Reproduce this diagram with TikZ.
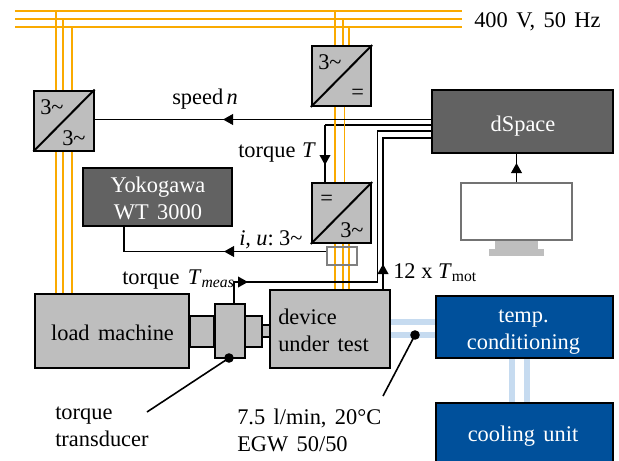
\documentclass[tikz,border=0pt]{standalone}
\usepackage{fontspec}
\setmainfont[WordSpace=1.5]{Liberation Serif}
\usetikzlibrary{arrows.meta}
\definecolor{phase}{RGB}{250,170,0}
\definecolor{coolant}{RGB}{198,219,240}
\definecolor{darkbox}{RGB}{98,98,98}
\definecolor{midbox}{RGB}{190,190,190}
\definecolor{bluebox}{RGB}{0,80,155}
\newcommand{\threeph}{3\textasciitilde}
\tikzset{
  midblock/.style={draw=black, line width=1.5pt, fill=midbox, inner sep=0pt},
  darkblock/.style={midblock, fill=darkbox},
  blueblock/.style={midblock, fill=bluebox},
  conv/.style={midblock, minimum width=44.5pt, minimum height=45pt},
  phaseline/.style={draw=phase, line width=1.3pt},
  coolline/.style={draw=coolant, line width=4.5pt},
  sigline/.style={draw=black, line width=1.2pt},
  sigarrow/.style={sigline, -{Triangle[length=7.5pt,width=8pt]}},
  textlabel/.style={inner sep=0pt, text=black, anchor=base west, align=left},
  boxtext/.style={inner sep=0pt, anchor=base, align=center}
}
\begin{document}
\begin{tikzpicture}[x=0.75pt, y=-0.75pt, every node/.style={font=\fontsize{16.8}{20}\selectfont}]
\useasboundingbox (0,0) rectangle (619,461);

% torque line runs under the grid
\draw[sigline] (432,125) -- (325,125);

% grid
\draw[phaseline] (15,11) -- (462,11);
\draw[phaseline] (15,19) -- (462,19);
\draw[phaseline] (15,27) -- (462,27);
\foreach \x/\y in {56/11, 63/19, 72/27} {
  \draw[phaseline] (\x,\y) -- (\x,294);
}
\draw[phaseline] (335,11) -- (335,290);
\draw[phaseline] (343,19) -- (343,46);
\draw[phaseline] (349,27) -- (349,46);
\draw[phaseline] (344.5,106) -- (344.5,183);
\draw[phaseline] (343,243) -- (343,290);
\draw[phaseline] (349,243) -- (349,290);

% coolant
\draw[coolline] (390,321.5) -- (436,321.5);
\draw[coolline] (390,335) -- (436,335);
\draw[coolline] (511.5,358) -- (511.5,403);
\draw[coolline] (527,358) -- (527,403);

% converters
\node[conv] (convload) at (64,120.5) {};
\node[conv] (convgrid) at (341.5,76) {};
\node[conv] (convdut) at (341.5,213) {};
\draw[line width=1.5pt] (convload.south west) -- (convload.north east);
\draw[line width=1.5pt] (convgrid.south west) -- (convgrid.north east);
\draw[line width=1.5pt] (convdut.south west) -- (convdut.north east);
\node[textlabel] (la) at (40,114) {\threeph};
\node[textlabel] (lb) at (62,145) {\threeph};
\node[textlabel] (lc) at (318,69) {\threeph};
\node[textlabel] (ld) at (351,99) {=};
\node[textlabel] (le) at (320,205) {=};
\node[textlabel] (lf) at (340,237) {\threeph};

% blocks
\node[darkblock, minimum width=112pt, minimum height=43.5pt] (yoko) at (157.5,197) {};
\node[darkblock, minimum width=135.7pt, minimum height=47pt] (dspace) at (522.5,121.5) {};
\node[midblock, minimum width=116pt, minimum height=55.5pt] (load) at (112,331) {};
\node[midblock, minimum width=90pt, minimum height=58.5pt] (dut) at (330,329) {};
\node[blueblock, minimum width=132.7pt, minimum height=46.5pt] (temp) at (524.5,327) {};
\node[blueblock, minimum width=132.7pt, minimum height=46.5pt] (cool) at (524.5,434) {};
\node[boxtext, text=white] (tyoko) at (158,219) {Yokogawa\\WT 3000};
\node[boxtext, text=white] (tdspace) at (523,131) {dSpace};
\node[boxtext] (tload) at (112.5,340) {load machine};
\node[textlabel] (tdut) at (278,351) {device\\under test};
\node[boxtext, text=white] (ttemp) at (523.5,349) {temp.\\conditioning};
\node[boxtext, text=white] (tcool) at (523,441) {cooling unit};

% shaft
\node[midblock, minimum width=18.5pt, minimum height=23pt] (shaftl) at (202,331.5) {};
\node[midblock, minimum width=13pt, minimum height=23pt] (shaftr) at (253,331.5) {};
\node[midblock, minimum width=6.5pt, minimum height=9pt] (shaftd) at (266,331) {};
\node[midblock, minimum width=22.5pt, minimum height=40.5pt] (trans) at (229.5,331) {};

% monitor
\node[draw=black!55, line width=1.3pt, fill=white, minimum width=83pt, minimum height=42.5pt, inner sep=0pt] (monitor) at (516.5,211.5) {};
\fill[midbox] (495,241) rectangle (538,249);
\fill[midbox] (489,249) rectangle (544,256);

% current sensor
\node[draw=black!50, line width=1.2pt, minimum width=22.5pt, minimum height=13.5pt, inner sep=0pt] (sensor) at (342,256) {};

% signals
\draw[sigline] (432,119.5) -- (convload.east |- 432,119.5);
\draw[sigarrow] (432,119.5) -- (223,119.5);
\draw[sigarrow] (325,125) -- (325,165);
\draw[sigline] (325,125) -- (325,183);
\draw[sigline] (432,131) -- (377.5,131) -- (377.5,282) -- (234,282) -- (234,304);
\draw[sigarrow] (234,282) -- (248,282);
\draw[sigline] (432,138) -- (383,138) -- (383,290);
\draw[sigarrow] (383,290) -- (383,264);
\draw[sigline] (sensor.west |- 124,251.5) -- (124,251.5) -- (124,226);
\draw[sigarrow] (sensor.west |- 124,251.5) -- (224,251.5);
\draw[sigline] (monitor.north) -- (dspace.south -| monitor.north);
\draw[sigarrow] (monitor.north) -- (516.5,163);

% labels
\node[textlabel] (lgrid) at (474,27) {400 V, 50 Hz};
\node[textlabel] (lspeed) at (172,104) {speed\hspace{2.5pt}\textit{n}};
\node[textlabel] (ltorque) at (238,157) {torque\hspace{5pt}\textit{T}};
\node[textlabel] (liu) at (239,245) {\textit{i,\hspace{4pt}u}:\hspace{4pt}\threeph};
\node[textlabel] (lmeas) at (122,284) {torque \textit{T}\textsubscript{\textit{meas}}};
\node[textlabel] (lmot) at (393,278) {12\hspace{4.2pt}x\hspace{4.2pt}\textit{T}\textsubscript{mot}};
\node[textlabel] (ltrans) at (55,446) {torque\\transducer};
\node[textlabel] (lflow) at (237,451) {7.5 l/min, 20°C\\EGW 50/50};

% callouts
\coordinate (ctrans) at (229,358);
\coordinate (cflow) at (415,335);
\coordinate (etrans) at (147,412);
\coordinate (eflow) at (383,396);
\fill (ctrans) circle (3.6pt);
\fill (cflow) circle (3.6pt);
\draw[sigline] (ctrans) -- (etrans);
\draw[sigline] (cflow) -- (eflow);
\end{tikzpicture}
\end{document}
